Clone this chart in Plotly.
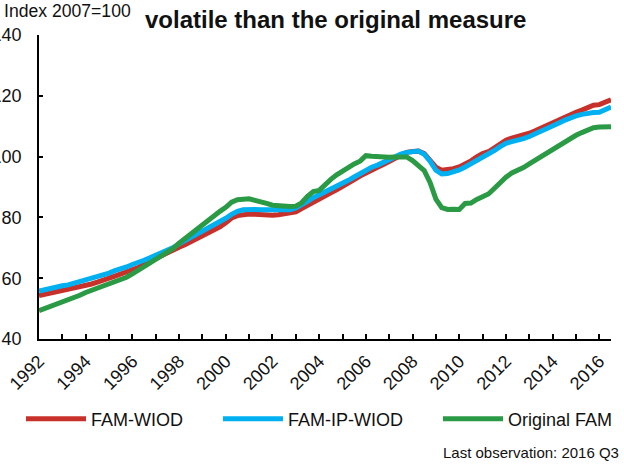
import plotly.graph_objects as go

# ---- data (quarterly, 1992Q1 .. 2016Q3) ----
start_year = 1992
n_quarters = 99
fam_wiod = [
    54.3, 54.7, 55.2, 55.5,
    55.8, 56.3, 56.8, 57.2,
    57.6, 58.1, 58.7, 59.2,
    60.0, 60.7, 61.3, 62.0,
    62.7, 63.5, 64.6, 65.6,
    66.6, 67.6, 68.5, 69.4,
    70.2, 71.0, 72.0, 72.9,
    73.7, 74.6, 75.6, 76.9,
    78.2, 79.8, 80.6, 81.0,
    81.1, 81.0, 80.8, 80.7,
    80.7, 80.9, 81.1, 81.4,
    81.8, 82.9, 84.0, 85.2,
    86.2, 87.1, 88.1, 89.1,
    90.1, 91.2, 92.4, 93.6,
    94.7, 95.7, 96.5, 97.4,
    98.4, 99.6, 100.5, 101.4,
    101.7, 101.8, 101.0, 99.0,
    96.5, 95.5, 95.7, 96.0,
    96.6, 97.5, 98.6, 99.9,
    101.0, 101.6, 103.0, 104.3,
    105.4, 106.1, 106.5, 107.0,
    107.7, 108.5, 109.4, 110.3,
    111.2, 112.1, 113.1, 114.0,
    114.6, 115.3, 116.3, 116.9,
    117.1, 117.8, 118.7,
]
fam_ip_wiod = [
    55.8, 56.3, 56.8, 57.1,
    57.5, 57.8, 58.3, 58.8,
    59.3, 59.8, 60.3, 60.9,
    61.7, 62.5, 63.0, 63.7,
    64.5, 65.0, 65.9, 66.7,
    67.5, 68.4, 69.3, 70.1,
    71.3, 72.3, 73.4, 74.4,
    75.3, 76.3, 77.3, 78.4,
    79.7, 81.0, 82.0, 82.5,
    82.7, 82.6, 82.5, 82.5,
    82.4, 82.3, 82.3, 82.5,
    83.1, 84.0, 85.3, 86.5,
    87.4, 88.3, 89.3, 90.2,
    91.1, 92.2, 93.3, 94.5,
    95.6, 96.5, 97.2, 98.2,
    99.2, 100.0, 100.8, 101.4,
    101.7, 101.8, 100.8, 98.5,
    95.5, 94.3, 94.4, 94.8,
    95.6, 96.6, 97.6, 98.9,
    99.7, 100.6, 102.0, 103.3,
    104.4, 104.9, 105.3, 105.9,
    106.6, 107.4, 108.3, 109.2,
    110.1, 111.0, 111.9, 112.8,
    113.4, 113.9, 114.3, 114.5,
    114.6, 115.4, 116.3,
]
original_fam = [
    49.3, 50.0, 50.7, 51.3,
    51.9, 52.6, 53.5, 54.4,
    55.3, 56.0, 56.6, 57.3,
    58.2, 59.0, 59.5, 60.3,
    61.4, 62.6, 64.0, 65.2,
    66.0, 67.2, 68.4, 69.8,
    71.5, 73.0, 74.6, 76.4,
    77.8, 79.0, 80.6, 82.0,
    83.3, 85.0, 85.8, 86.1,
    86.1, 85.6, 84.9, 84.6,
    84.0, 83.8, 83.7, 83.6,
    83.7, 84.8, 86.9, 88.5,
    88.9, 90.8, 92.5, 94.0,
    95.3, 96.6, 97.6, 98.5,
    100.3, 100.1, 99.9, 99.8,
    99.8, 99.9, 100.1, 99.9,
    98.7, 97.3, 95.4, 91.5,
    86.0, 83.2, 82.6, 82.7,
    82.6, 84.6, 84.7, 85.9,
    86.7, 87.7, 89.5, 91.5,
    93.2, 94.6, 95.3, 96.4,
    97.6, 98.8, 100.0, 101.1,
    102.3, 103.4, 104.8, 106.0,
    107.0, 107.9, 108.8, 109.5,
    109.7, 109.8, 109.8,
]
series_names = ["FAM-WIOD", "FAM-IP-WIOD", "Original FAM"]
year_ticks = list(range(1992, 2017))
year_labels = [str(y) if y % 2 == 0 else "" for y in year_ticks]
y_ticks = [40, 60, 80, 100, 120, 140]

x_vals = [start_year + i / 4 for i in range(n_quarters)]

colors = ["#C8302A", "#00B0F0", "#2A9A45"]
# trailing non-breaking spaces only widen the legend entries (spacing)
legend_pad = ["\u00a0" * 6, "\u00a0" * 6, ""]
W, H = 624, 466
ML, MR, MT, MB = 39, 13, 35, 127
PW, PH = W - ML - MR, H - MT - MB


def px_x(p):
    return (p - ML) / PW


def px_y(p):
    return (H - MB - p) / PH


FONT = "Arial, 'Liberation Sans', sans-serif"

fig = go.Figure()
for name, vals, c, pad in zip(series_names, [fam_wiod, fam_ip_wiod, original_fam], colors, legend_pad):
    fig.add_trace(go.Scatter(x=x_vals, y=vals, mode="lines", name=name + pad,
                             line=dict(color=c, width=5), cliponaxis=False))

fig.update_layout(
    width=W, height=H, autosize=False,
    margin=dict(l=ML, r=MR, t=MT, b=MB, pad=0, autoexpand=False),
    paper_bgcolor="white", plot_bgcolor="white",
    font=dict(family=FONT, size=18, color="#111111"),
    showlegend=True,
    legend=dict(orientation="h", x=px_x(21), y=px_y(419), xanchor="left", yanchor="middle",
                font=dict(size=18, family=FONT, color="#111111"),
                itemwidth=60, bgcolor="rgba(0,0,0,0)"),
    xaxis=dict(range=[1992, 2016.5], tickmode="array", tickvals=year_ticks, ticktext=year_labels,
               tickangle=-45, ticks="inside", ticklen=5, tickwidth=1.5, tickcolor="black",
               showline=True, linecolor="black", linewidth=1.5, showgrid=False, zeroline=False,
               automargin=False, ticklabelstandoff=3,
               ticklabeloverflow="allow",
               tickfont=dict(size=18, family=FONT, color="#111111")),
    yaxis=dict(range=[40, 140], tickmode="array", tickvals=y_ticks,
               ticks="inside", ticklen=4, tickwidth=1.5, tickcolor="black",
               showline=True, linecolor="black", linewidth=1.5, showgrid=False, zeroline=False,
               automargin=False, ticklabelstandoff=12, ticklabeloverflow="allow",
               tickfont=dict(size=18, family=FONT, color="#111111")),
)

fig.add_annotation(text="<b>volatile than the original measure</b>", xref="paper", yref="paper",
                   x=px_x(335), y=px_y(19), xanchor="center", yanchor="middle", showarrow=False,
                   font=dict(size=24, family=FONT, color="#111111"))
fig.add_annotation(text="Index 2007=100", xref="paper", yref="paper",
                   x=px_x(2), y=px_y(11), xanchor="left", yanchor="middle", showarrow=False,
                   font=dict(size=17.6, family=FONT, color="#111111"))
fig.add_annotation(text="Last observation: 2016 Q3", xref="paper", yref="paper",
                   x=px_x(621), y=px_y(452), xanchor="right", yanchor="middle", showarrow=False,
                   font=dict(size=15, family=FONT, color="#111111"))

fig.write_html("out.html", config={"displayModeBar": False},
               post_script="document.body.style.margin='0px';")
